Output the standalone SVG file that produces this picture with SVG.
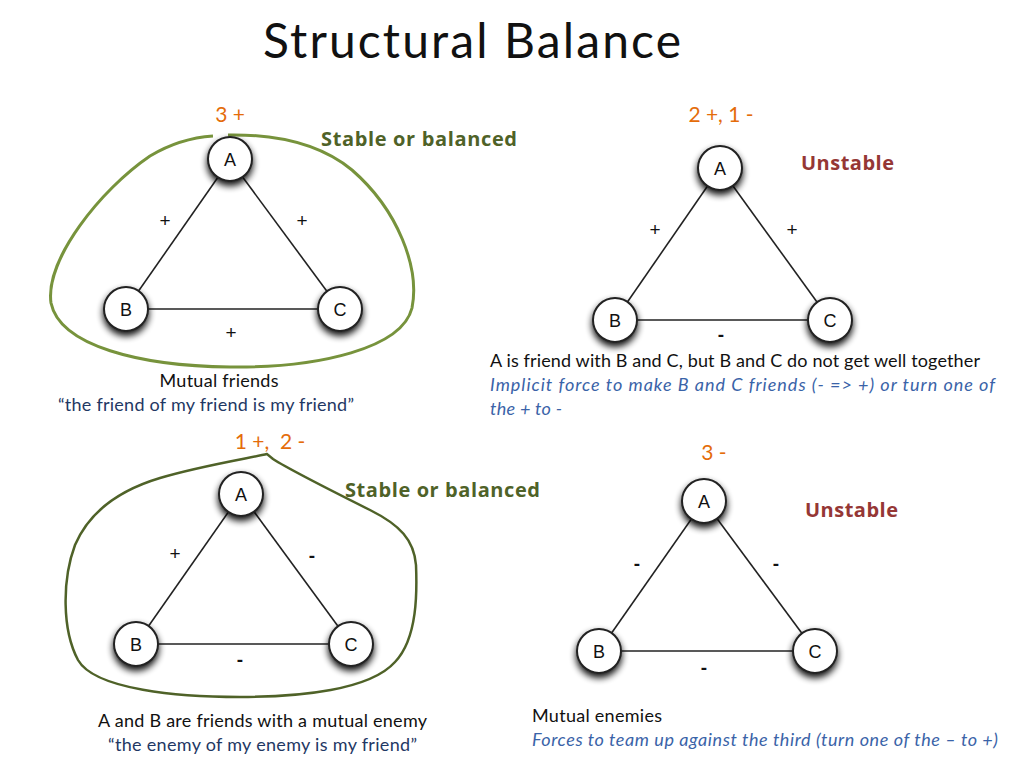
<svg xmlns="http://www.w3.org/2000/svg" width="1024" height="768" viewBox="0 0 1024 768">
<defs>
<filter id="sh" x="-50%" y="-50%" width="200%" height="200%">
<feGaussianBlur in="SourceAlpha" stdDeviation="3.5"/>
<feOffset dx="0" dy="4" result="b"/>
<feComponentTransfer><feFuncA type="linear" slope="0.95"/></feComponentTransfer>
<feMerge><feMergeNode/><feMergeNode in="SourceGraphic"/></feMerge>
</filter>
<style>
.node circle{fill:#fff;stroke:#222;stroke-width:2;filter:url(#sh)}
.node text{font-family:"Liberation Sans",Arial,sans-serif;font-size:18px;fill:#111;text-anchor:middle}
.edge{stroke:#222;stroke-width:1.6}
.el{font-family:"Liberation Sans",Arial,sans-serif;font-size:19px;fill:#111;text-anchor:middle}
.dash{font-weight:bold}
.cnt{font-family:Lato,"Open Sans",sans-serif;font-size:21px;fill:#E46C0A;text-anchor:middle}
.stb{font-family:"Open Sans",Lato,sans-serif;font-size:20px;font-weight:bold;fill:#4F6228}
.uns{font-family:"Open Sans",Lato,sans-serif;font-size:20px;font-weight:bold;fill:#953735}
.body{font-family:Lato,"Open Sans",sans-serif;font-size:18px;fill:#111}
.quote{font-family:Lato,"Open Sans",sans-serif;font-size:18px;fill:#1F3864}
.ital{font-family:Lato,"Open Sans",sans-serif;font-size:18px;font-style:italic;fill:#3A63A8}
</style>
</defs>
<rect width="1024" height="768" fill="#fff"/>
<text x="472" y="58" font-family="Lato,'Open Sans',sans-serif" font-size="48" fill="#111" text-anchor="middle" textLength="418">Structural Balance</text>

<!-- blobs -->
<path d="M228,135 C285,134 325,148 352,170 C398,210 420,268 412,308 C402,348 320,368 230,367 C140,366 60,346 51,303 C45,260 100,190 150,156 C175,141 198,137 213,136" fill="none" stroke="#77933C" stroke-width="3"/>
<path d="M267,454 C250,458 200,466 160,478 C120,490 90,510 75,545 C62,580 62,630 78,660 C95,690 180,697 240,697 C300,697 370,690 395,662 C418,638 417,590 416,565 C414,540 400,525 370,510 C330,490 290,470 273,459 Z" fill="none" stroke="#4F6228" stroke-width="2.5"/>

<!-- connectors -->
<g id="connectors">
<line class="edge" x1="230" y1="160" x2="126" y2="309"/>
<line class="edge" x1="230" y1="160" x2="340" y2="309"/>
<line class="edge" x1="126" y1="309" x2="340" y2="309"/>
<line class="edge" x1="720" y1="168" x2="615" y2="320"/>
<line class="edge" x1="720" y1="168" x2="830" y2="320"/>
<line class="edge" x1="615" y1="320" x2="830" y2="320"/>
<line class="edge" x1="241" y1="494" x2="136" y2="644"/>
<line class="edge" x1="241" y1="494" x2="351" y2="644"/>
<line class="edge" x1="136" y1="644" x2="351" y2="644"/>
<line class="edge" x1="704" y1="501" x2="599" y2="651"/>
<line class="edge" x1="704" y1="501" x2="815" y2="651"/>
<line class="edge" x1="599" y1="651" x2="815" y2="651"/>
</g>

<!-- edge labels -->
<g id="edge-labels">
<text class="el" x="165" y="227">+</text>
<text class="el" x="302" y="227">+</text>
<text class="el" x="231" y="339">+</text>
<text class="el" x="655" y="236">+</text>
<text class="el" x="792" y="236">+</text>
<text class="el dash" x="721" y="341">-</text>
<text class="el" x="175" y="560">+</text>
<text class="el dash" x="312" y="562">-</text>
<text class="el dash" x="240" y="666">-</text>
<text class="el dash" x="637" y="570">-</text>
<text class="el dash" x="776" y="570">-</text>
<text class="el dash" x="704" y="674">-</text>
</g>

<!-- nodes panel 1 -->
<g id="p1-A" class="node"><circle cx="230" cy="159" r="22"/><text x="230" y="166">A</text></g>
<g id="p1-B" class="node"><circle cx="126" cy="309" r="22"/><text x="126" y="316">B</text></g>
<g id="p1-C" class="node"><circle cx="340" cy="309" r="22"/><text x="340" y="316">C</text></g>
<!-- nodes panel 2 -->
<g id="p2-A" class="node"><circle cx="720" cy="168" r="22"/><text x="720" y="175">A</text></g>
<g id="p2-B" class="node"><circle cx="615" cy="320" r="22"/><text x="615" y="327">B</text></g>
<g id="p2-C" class="node"><circle cx="830" cy="320" r="22"/><text x="830" y="327">C</text></g>
<!-- nodes panel 3 -->
<g id="p3-A" class="node"><circle cx="241" cy="494" r="22"/><text x="241" y="501">A</text></g>
<g id="p3-B" class="node"><circle cx="136" cy="644" r="22"/><text x="136" y="651">B</text></g>
<g id="p3-C" class="node"><circle cx="351" cy="644" r="22"/><text x="351" y="651">C</text></g>
<!-- nodes panel 4 -->
<g id="p4-A" class="node"><circle cx="704" cy="501" r="22"/><text x="704" y="508">A</text></g>
<g id="p4-B" class="node"><circle cx="599" cy="651" r="22"/><text x="599" y="658">B</text></g>
<g id="p4-C" class="node"><circle cx="815" cy="651" r="22"/><text x="815" y="658">C</text></g>

<!-- counts -->
<text class="cnt" x="230" y="122">3 +</text>
<text class="cnt" x="721" y="122">2 +, 1 -</text>
<text class="cnt" x="270" y="449" xml:space="preserve">1 +,  2 -</text>
<text class="cnt" x="714" y="460">3 -</text>

<!-- status labels -->
<text class="stb" x="321" y="146" textLength="196">Stable or balanced</text>
<text class="uns" x="801" y="170" textLength="93">Unstable</text>
<text class="stb" x="345" y="497" textLength="195">Stable or balanced</text>
<text class="uns" x="805" y="517" textLength="93">Unstable</text>

<!-- descriptions -->
<text class="body" x="219" y="387" text-anchor="middle" textLength="119">Mutual friends</text>
<text class="quote" x="206" y="411" text-anchor="middle" textLength="296">“the friend of my friend is my friend”</text>
<text class="body" x="490" y="367" textLength="490">A is friend with B and C, but B and C do not get well together</text>
<text class="ital" x="490" y="391" textLength="505">Implicit force to make B and C friends (- =&gt; +) or turn one of</text>
<text class="ital" x="490" y="415" textLength="72">the + to -</text>
<text class="body" x="98" y="727" textLength="329">A and B are friends with a mutual enemy</text>
<text class="quote" x="108" y="751" textLength="309">“the enemy of my enemy is my friend”</text>
<text class="body" x="532" y="722" textLength="130">Mutual enemies</text>
<text class="ital" x="532" y="746" textLength="466">Forces to team up against the third (turn one of the – to +)</text>
</svg>
